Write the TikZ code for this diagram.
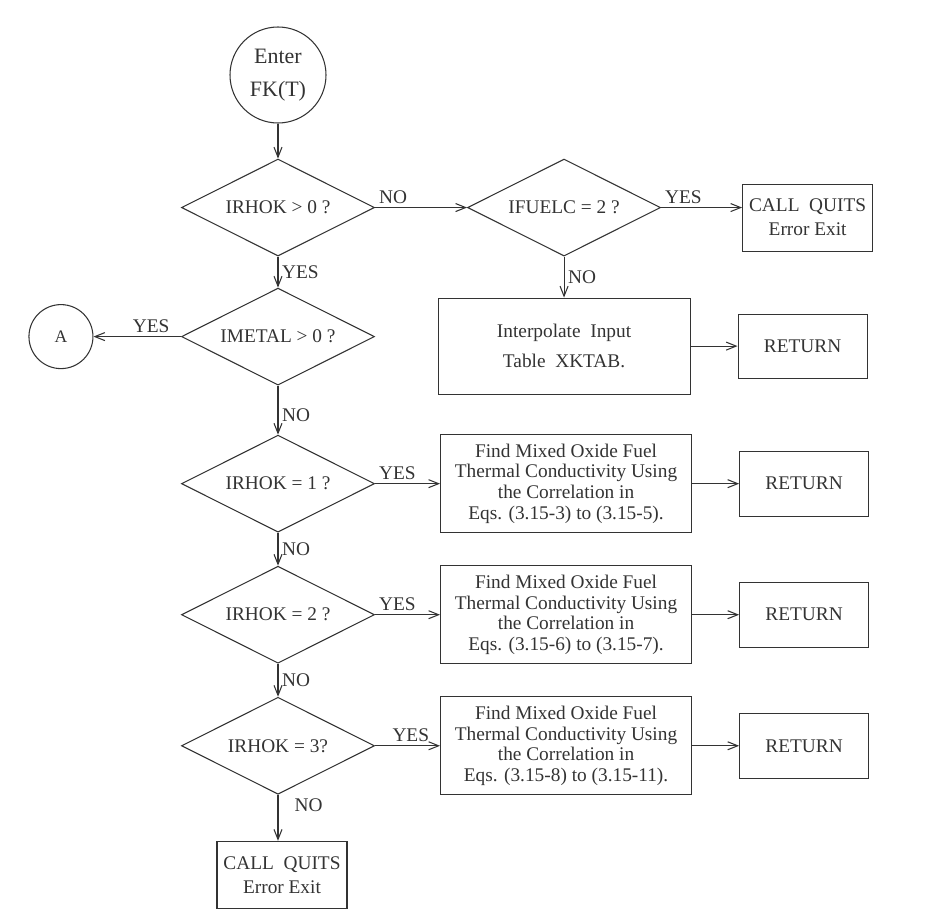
\documentclass[tikz,border=0pt]{standalone}
\usepackage{fontspec}
\setmainfont{Liberation Serif}
\usepackage{tikz}
\usetikzlibrary{arrows.meta,positioning,shapes.geometric}

\begin{document}
\begin{tikzpicture}[
    node distance=0.66cm,
    black!80, line width=0.6pt,
    font=\fontsize{11}{12}\selectfont,
    decision/.style={diamond, draw, shape aspect=2, minimum width=3.86cm, minimum height=1.94cm, inner sep=0pt, align=center},
    box/.style={rectangle, draw, minimum width=5.02cm, minimum height=1.96cm, align=center, font=\fontsize{11}{11.8}\selectfont},
    endbox/.style={rectangle, draw, minimum width=2.58cm, minimum height=1.3cm, align=center},
    quitbox/.style={rectangle, draw, minimum width=2.6cm, minimum height=1.34cm, align=center, font=\fontsize{11}{13.6}\selectfont},
    terminal/.style={circle, draw, inner sep=0pt, align=center},
    lbl/.style={inner sep=2pt},
    arrow/.style={-{Straight Barb[length=2mm,width=1.6mm]}}
]
    \useasboundingbox (0,0) rectangle (18.5,-18.48);

    % main column
    \node[terminal, minimum size=1.92cm, font=\fontsize{12.5}{19}\selectfont] (start) at (5.56,-1.50) {Enter\\FK(T)};
    \node[decision, below=0.7cm of start] (rhok0) {IRHOK > 0 ?};
    \node[decision, below=0.62cm of rhok0] (metal) {IMETAL > 0 ?};
    \node[decision, below=0.98cm of metal] (rhok1) {IRHOK = 1 ?};
    \node[decision, below=of rhok1] (rhok2) {IRHOK = 2 ?};
    \node[decision, below=of rhok2] (rhok3) {IRHOK = 3?};
    \node[quitbox, below=0.92cm of rhok3, xshift=0.08cm] (quitB) {CALL\ \ QUITS\\Error Exit};
    \node[terminal, minimum size=1.28cm, font=\fontsize{10}{12}\selectfont, left=1.75cm of metal] (conA) {A};

    % fuel table branch
    \node[decision, right=1.84cm of rhok0] (fuelc) {IFUELC = 2 ?};
    \node[quitbox, right=1.62cm of fuelc, yshift=-0.2cm] (quitA) {CALL\ \ QUITS\\Error Exit};
    \node[box, minimum width=5.04cm, minimum height=1.92cm, font=\fontsize{11}{17}\selectfont, below=0.82cm of fuelc] (interp) {Interpolate\ \ Input\\Table\ \ XKTAB.};
    \node[endbox, minimum height=1.28cm, right=0.94cm of interp] (ret0) {RETURN};

    % correlations
    \node[box, right=1.3cm of rhok1] (corr1) {Find Mixed Oxide Fuel\\Thermal Conductivity Using\\the Correlation in\\Eqs. (3.15-3) to (3.15-5).};
    \node[box, right=1.3cm of rhok2] (corr2) {Find Mixed Oxide Fuel\\Thermal Conductivity Using\\the Correlation in\\Eqs. (3.15-6) to (3.15-7).};
    \node[box, right=1.3cm of rhok3] (corr3) {Find Mixed Oxide Fuel\\Thermal Conductivity Using\\the Correlation in\\Eqs. (3.15-8) to (3.15-11).};
    \node[endbox, right=0.94cm of corr1] (ret1) {RETURN};
    \node[endbox, right=0.94cm of corr2] (ret2) {RETURN};
    \node[endbox, right=0.94cm of corr3] (ret3) {RETURN};

    \draw[arrow] (start) -- (rhok0);
    \draw[arrow] (rhok0) -- node[lbl, above right, pos=0] {NO} (fuelc);
    \draw[arrow] (fuelc) -- node[lbl, above right, pos=0] {YES} (fuelc.east -| quitA.west);
    \draw[arrow] (fuelc) -- node[lbl, right] {NO} (interp);
    \draw[arrow] (interp) -- (ret0);
    \draw[arrow] (rhok0) -- node[lbl, right] {YES} (metal);
    \draw[arrow] (metal) -- node[lbl, above, pos=0.34] {YES} (conA);
    \draw[arrow] (metal) -- node[lbl, right, pos=0.6] {NO} (rhok1);
    \draw[arrow] (rhok1) -- node[lbl, above right, pos=0] {YES} (corr1);
    \draw[arrow] (rhok1) -- node[lbl, right] {NO} (rhok2);
    \draw[arrow] (rhok2) -- node[lbl, above right, pos=0] {YES} (corr2);
    \draw[arrow] (rhok2) -- node[lbl, right] {NO} (rhok3);
    \draw[arrow] (rhok3) -- node[lbl, above, pos=0.55] {YES} (corr3);
    \draw[arrow] (rhok3.south) -- node[lbl, right, pos=0.23, xshift=0.25cm] {NO} (rhok3.south |- quitB.north);
    \draw[arrow] (corr1) -- (ret1);
    \draw[arrow] (corr2) -- (ret2);
    \draw[arrow] (corr3) -- (ret3);
\end{tikzpicture}
\end{document}
